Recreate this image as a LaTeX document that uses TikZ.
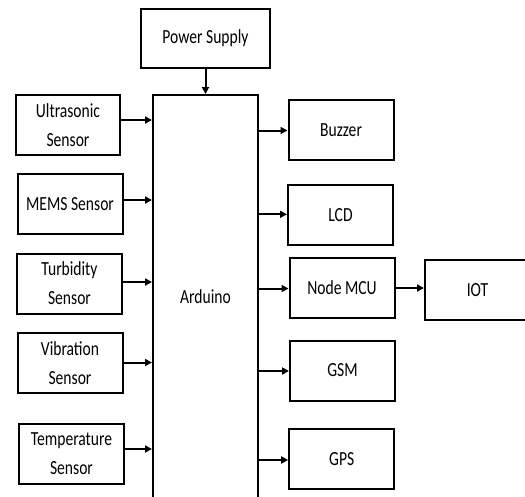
\documentclass[tikz,border=0pt]{standalone}
\usepackage{fontspec}
\setmainfont{Carlito}[FakeStretch=0.78]
\usetikzlibrary{arrows.meta}
\begin{document}
\begin{tikzpicture}[x=1pt,y=-1pt,
  blk/.style={draw, line width=2pt, minimum width=#1, minimum height=60pt, inner sep=0pt, align=center,
    font=\fontsize{20}{29}\selectfont},
  blk/.default=105pt,
  arr/.style={line width=2pt, -{Triangle[length=7pt,width=7pt]}}]
\useasboundingbox (0,0) rectangle (525,496);
\clip (0,0) rectangle (525,496);
\node[blk=129pt, minimum height=59pt] (pow) at (205.5,38.5) {Power Supply};
\node[blk=105pt, minimum height=404pt] (ard) at (205.5,297) {Arduino};
\node[blk=104pt] (ultra) at (68,125) {Ultrasonic\\Sensor};
\node[blk] (mems) at (70,204) {MEMS Sensor};
\node[blk] (turb) at (69.5,283.5) {Turbidity\\Sensor};
\node[blk] (vib) at (70,363) {Vibration\\Sensor};
\node[blk] (temp) at (71.5,454) {Temperature\\Sensor};
\node[blk] (buz) at (341,130) {Buzzer};
\node[blk] (lcd) at (340.5,215) {LCD};
\node[blk] (mcu) at (342,287.5) {Node MCU};
\node[blk] (iot) at (477.5,290) {IOT};
\node[blk] (gsm) at (342.5,370.5) {GSM};
\node[blk] (gps) at (341.7,459) {GPS};
\draw[arr] (pow.south) -- (pow.south |- ard.north);
\draw[arr] (ultra.east |- 0,120) -- (ard.west |- 0,120);
\draw[arr] (mems.east |- 0,200) -- (ard.west |- 0,200);
\draw[arr] (turb.east |- 0,282) -- (ard.west |- 0,282);
\draw[arr] (vib.east |- 0,362.5) -- (ard.west |- 0,362.5);
\draw[arr] (temp.east |- 0,449) -- (ard.west |- 0,449);
\draw[arr] (ard.east |- 0,130.5) -- (buz.west |- 0,130.5);
\draw[arr] (ard.east |- 0,214.3) -- (lcd.west |- 0,214.3);
\draw[arr] (ard.east |- 0,288.5) -- (mcu.west |- 0,288.5);
\draw[arr] (mcu.east |- 0,288) -- (iot.west |- 0,288);
\draw[arr] (ard.east |- 0,371) -- (gsm.west |- 0,371);
\draw[arr] (ard.east |- 0,460) -- (gps.west |- 0,460);
\end{tikzpicture}
\end{document}
